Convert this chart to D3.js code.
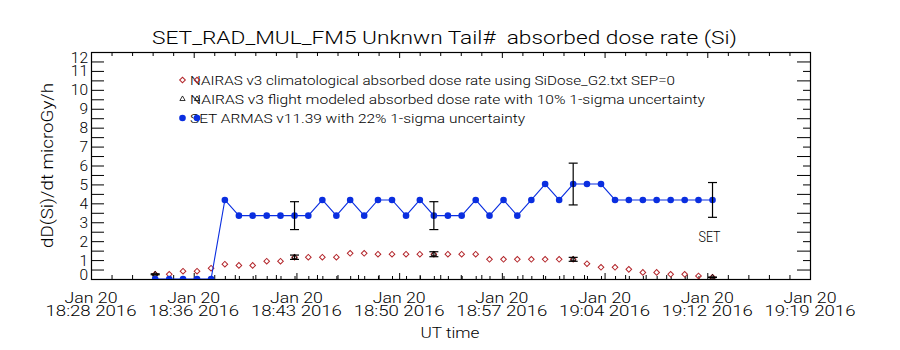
<!DOCTYPE html>
<html>
<head>
<meta charset="utf-8">
<script src="https://cdn.jsdelivr.net/npm/d3@7"></script>
<style>
  body { margin: 0; background: #fff; }
  svg { display: block; }
  text { font-family: Roboto, "DejaVu Sans", sans-serif; font-weight: 300; fill: #000; }
</style>
</head>
<body>
<div class="dose-chart"></div>
<script>
'use strict';

// sample times (UT, 2016-01-20)
var sampleTimes = ['18:33:18', '18:34:17', '18:35:15', '18:36:14', '18:37:13', '18:38:11', '18:39:10',
  '18:40:08', '18:41:07', '18:42:05', '18:43:04', '18:44:02', '18:45:01', '18:46:00', '18:46:58',
  '18:47:57', '18:48:55', '18:49:54', '18:50:53', '18:51:51', '18:52:50', '18:53:49', '18:54:47',
  '18:55:46', '18:56:44', '18:57:43', '18:58:41', '18:59:40', '19:00:38', '19:01:37', '19:02:36',
  '19:03:34', '19:04:33', '19:05:32', '19:06:30', '19:07:29', '19:08:27', '19:09:26', '19:10:25',
  '19:11:23', '19:12:22'];

// SET ARMAS v11.39 (microGy/h)
var setDose = [0, 0, 0, 0, 0, 4.18, 3.35, 3.35, 3.35, 3.35, 3.35, 3.35, 4.18, 3.35, 4.18,
  3.35, 4.18, 4.18, 3.35, 4.18, 3.35, 3.35, 3.35, 4.18, 3.35, 4.18, 3.35, 4.18, 5.02, 4.18,
  5.02, 5.02, 5.02, 4.18, 4.18, 4.18, 4.18, 4.18, 4.18, 4.18, 4.18];

// NAIRAS v3 climatological (microGy/h)
var nairasClimDose = [0.25, 0.25, 0.41, 0.41, 0.57, 0.78, 0.72, 0.72, 0.94, 0.94, 1.15, 1.15,
  1.15, 1.15, 1.36, 1.36, 1.31, 1.31, 1.31, 1.31, 1.31, 1.31, 1.31, 1.31, 1.04, 1.04, 1.04,
  1.04, 1.04, 1.04, 1.04, 0.81, 0.62, 0.62, 0.51, 0.35, 0.35, 0.25, 0.25, 0.16, 0.09];

// NAIRAS v3 flight modeled (microGy/h)
var flightTimes = ['18:33:18', '18:43:04', '18:52:50', '19:02:36', '19:12:22'];
var flightDose = [0.25, 1.15, 1.31, 1.04, 0.09];
var flightSigma = 0.10;

// SET error bars
var setBarTimes = ['18:43:04', '18:52:50', '19:02:36', '19:12:22'];
var setSigma = 0.22;

var xTickTimes = ['18:28:48', '18:36:00', '18:43:12', '18:50:24', '18:57:36', '19:04:48', '19:12:00', '19:19:12'];
var xTickDates = ['Jan 20', 'Jan 20', 'Jan 20', 'Jan 20', 'Jan 20', 'Jan 20', 'Jan 20', 'Jan 20'];
var xTickLabels = ['18:28 2016', '18:36 2016', '18:43 2016', '18:50 2016', '18:57 2016', '19:04 2016', '19:12 2016', '19:19 2016'];
var yTicks = [0, 1, 2, 3, 4, 5, 6, 7, 8, 9, 10, 11, 12];

var legendLabels = [
  'NAIRAS v3 climatological absorbed dose rate using SiDose_G2.txt SEP=0',
  'NAIRAS v3 flight modeled absorbed dose rate with 10% 1-sigma uncertainty',
  'SET ARMAS v11.39 with 22% 1-sigma uncertainty'
];

var width = 900,
    height = 350,
    plot = { left: 91, right: 810, top: 52, bottom: 279 },
    blue = '#0a2ee0',
    red = '#b3262b',
    parseTime = d3.utcParse('%H:%M:%S'),
    x = d3.scaleUtc().domain([parseTime(xTickTimes[0]), parseTime(xTickTimes[xTickTimes.length - 1])]).range([plot.left, plot.right]),
    y = d3.scaleLinear().domain([0, 12]).range([plot.bottom, plot.top]),
    svg = d3.select('.dose-chart').append('svg').attr('width', width).attr('height', height);

var samples = sampleTimes.map(function (t, i) {
  return { t: parseTime(t), set: setDose[i], clim: nairasClimDose[i] };
});
var flight = flightTimes.map(function (t, i) {
  return { t: parseTime(t), v: flightDose[i] };
});
var setBars = setBarTimes.map(function (t) {
  var s = samples[sampleTimes.indexOf(t)];
  return { t: s.t, v: s.set };
});
var majorTimes = xTickTimes.map(parseTime);

function minorTimes() {
  var out = [];
  for (var i = 0; i < majorTimes.length - 1; i++) {
    var a = +majorTimes[i], b = +majorTimes[i + 1];
    for (var k = 1; k < 5; k++) out.push(new Date(a + (b - a) * k / 5));
  }
  return out;
}

function drawAxes() {
  var g = svg.append('g').attr('class', 'axes');
  var minors = minorTimes();
  var halves = d3.range(0.5, 12, 1);
  var ints = d3.range(1, 12, 1);
  var allLeft = d3.range(0.5, 12, 0.5);

  function strip(sel) {
    sel.select('.domain').remove();
    sel.selectAll('.tick line').attr('stroke', '#000');
    return sel;
  }

  g.append('g').attr('transform', 'translate(0,' + plot.bottom + ')')
    .call(d3.axisBottom(x).tickValues(majorTimes).tickSize(-6).tickFormat('')).call(strip);
  g.append('g').attr('transform', 'translate(0,' + plot.bottom + ')')
    .call(d3.axisBottom(x).tickValues(minors).tickSize(-4).tickFormat('')).call(strip);
  g.append('g').attr('transform', 'translate(0,' + plot.bottom + ')')
    .call(d3.axisBottom(x).tickValues(samples.map(function (d) { return d.t; })).tickSize(-3).tickFormat('')).call(strip);

  g.append('g').attr('transform', 'translate(0,' + plot.top + ')')
    .call(d3.axisTop(x).tickValues(majorTimes).tickSize(-6).tickFormat('')).call(strip);
  g.append('g').attr('transform', 'translate(0,' + plot.top + ')')
    .call(d3.axisTop(x).tickValues(minors).tickSize(-4).tickFormat('')).call(strip);

  g.append('g').attr('transform', 'translate(' + plot.left + ',0)')
    .call(d3.axisLeft(y).tickValues(allLeft).tickSize(-13).tickFormat('')).call(strip);
  g.append('g').attr('transform', 'translate(' + plot.right + ',0)')
    .call(d3.axisRight(y).tickValues(halves).tickSize(-13).tickFormat('')).call(strip);
  g.append('g').attr('transform', 'translate(' + plot.right + ',0)')
    .call(d3.axisRight(y).tickValues(ints).tickSize(-7).tickFormat('')).call(strip);

  g.append('rect')
    .attr('x', plot.left + 0.5).attr('y', plot.top + 0.5)
    .attr('width', plot.right - plot.left).attr('height', plot.bottom - plot.top)
    .attr('fill', 'none').attr('stroke', '#000').attr('stroke-width', 1.2);

  // y tick labels, end labels kept inside the frame
  g.selectAll('text.ylab').data(yTicks).enter().append('text')
    .attr('class', 'ylab')
    .attr('x', 88)
    .attr('y', function (d) {
      return Math.min(Math.max(y(d), plot.top + 5), plot.bottom - 4.5) + 5.5;
    })
    .attr('text-anchor', 'end')
    .style('font-size', '15.5px')
    .text(function (d) { return d; });

  // x tick labels, two lines each
  var xl = g.selectAll('text.xlab').data(majorTimes).enter().append('text')
    .attr('class', 'xlab')
    .attr('text-anchor', 'middle').style('font-size', '15px');
  xl.append('tspan')
    .attr('x', function (d) { return x(d); }).attr('y', 302.5)
    .attr('textLength', 53).attr('lengthAdjust', 'spacingAndGlyphs')
    .text(function (d, i) { return xTickDates[i]; });
  xl.append('tspan')
    .attr('x', function (d) { return x(d); }).attr('y', 316)
    .attr('textLength', 91).attr('lengthAdjust', 'spacingAndGlyphs')
    .text(function (d, i) { return xTickLabels[i]; });

  svg.append('text').attr('x', 450).attr('y', 337.5)
    .attr('text-anchor', 'middle').style('font-size', '15px')
    .attr('textLength', 59).attr('lengthAdjust', 'spacingAndGlyphs')
    .text('UT time');

  svg.append('text')
    .attr('transform', 'translate(53,165.5) rotate(-90)')
    .attr('text-anchor', 'middle').style('font-size', '16px')
    .attr('textLength', 165).attr('lengthAdjust', 'spacingAndGlyphs')
    .text('dD(Si)/dt microGy/h');

  svg.append('text').attr('x', 444.5).attr('y', 44)
    .attr('text-anchor', 'middle').style('font-size', '18.5px')
    .style('white-space', 'pre')
    .attr('textLength', 585).attr('lengthAdjust', 'spacingAndGlyphs')
    .text('SET_RAD_MUL_FM5 Unknwn Tail#  absorbed dose rate (Si)');
}

function errorBar(g, data, sigma) {
  var cap = 4.5;
  var bars = g.selectAll(null).data(data).enter().append('g').attr('stroke', '#000').attr('stroke-width', 1.2);
  bars.append('line')
    .attr('x1', function (d) { return x(d.t); }).attr('x2', function (d) { return x(d.t); })
    .attr('y1', function (d) { return y(d.v * (1 + sigma)); })
    .attr('y2', function (d) { return y(d.v * (1 - sigma)); });
  [1 + sigma, 1 - sigma].forEach(function (f) {
    bars.append('line')
      .attr('x1', function (d) { return x(d.t) - cap; }).attr('x2', function (d) { return x(d.t) + cap; })
      .attr('y1', function (d) { return y(d.v * f); }).attr('y2', function (d) { return y(d.v * f); });
  });
}

function drawSeries() {
  svg.append('clipPath').attr('id', 'plot-clip').append('rect')
    .attr('x', plot.left).attr('y', plot.top)
    .attr('width', plot.right - plot.left).attr('height', plot.bottom - plot.top);

  var g = svg.append('g').attr('clip-path', 'url(#plot-clip)');
  var diamond = d3.symbol().type(d3.symbolSquare).size(16);
  var triangle = d3.symbol().type(d3.symbolTriangle).size(12);

  // NAIRAS climatological
  g.selectAll('path.clim').data(samples).enter().append('path')
    .attr('class', 'clim')
    .attr('d', diamond)
    .attr('transform', function (d) { return 'translate(' + x(d.t) + ',' + y(d.clim) + ') rotate(45)'; })
    .attr('fill', 'none').attr('stroke', red).attr('stroke-width', 1);

  // NAIRAS flight modeled
  errorBar(g, flight, flightSigma);
  g.selectAll('path.flight').data(flight).enter().append('path')
    .attr('class', 'flight')
    .attr('d', triangle)
    .attr('transform', function (d) { return 'translate(' + x(d.t) + ',' + y(d.v) + ')'; })
    .attr('fill', 'none').attr('stroke', '#000').attr('stroke-width', 0.8);

  // SET ARMAS
  g.append('path').datum(samples)
    .attr('d', d3.line().x(function (d) { return x(d.t); }).y(function (d) { return y(d.set); }))
    .attr('fill', 'none').attr('stroke', blue).attr('stroke-width', 1.1);
  g.selectAll('circle.set').data(samples).enter().append('circle')
    .attr('class', 'set')
    .attr('cx', function (d) { return x(d.t); })
    .attr('cy', function (d) { return y(d.set); })
    .attr('r', 3.3).attr('fill', blue);
  errorBar(g, setBars, setSigma);

  var last = setBars[setBars.length - 1];
  svg.append('text').attr('x', x(last.t) - 3).attr('y', 242)
    .attr('text-anchor', 'middle').style('font-size', '14px')
    .attr('textLength', 22).attr('lengthAdjust', 'spacingAndGlyphs')
    .text('SET');
}

function drawLegend() {
  var rows = [80, 99, 118],
      widths = [485, 515, 335],
      g = svg.append('g').attr('class', 'legend'),
      diamond = d3.symbol().type(d3.symbolSquare).size(16),
      triangle = d3.symbol().type(d3.symbolTriangle).size(12);

  legendLabels.forEach(function (label, i) {
    g.append('text').attr('x', 190).attr('y', rows[i] + 4.5)
      .style('font-size', '12.5px')
      .attr('textLength', widths[i]).attr('lengthAdjust', 'spacingAndGlyphs')
      .text(label);
    [182.5, 197].forEach(function (sx) {
      if (i === 0) {
        g.append('path').attr('d', diamond)
          .attr('transform', 'translate(' + sx + ',' + rows[i] + ') rotate(45)')
          .attr('fill', 'none').attr('stroke', red);
      } else if (i === 1) {
        g.append('path').attr('d', triangle)
          .attr('transform', 'translate(' + sx + ',' + rows[i] + ')')
          .attr('fill', 'none').attr('stroke', '#000').attr('stroke-width', 0.8);
      } else {
        g.append('circle').attr('cx', sx).attr('cy', rows[i]).attr('r', 3.3).attr('fill', blue);
      }
    });
  });
}

drawAxes();
drawSeries();
drawLegend();
</script>
</body>
</html>
